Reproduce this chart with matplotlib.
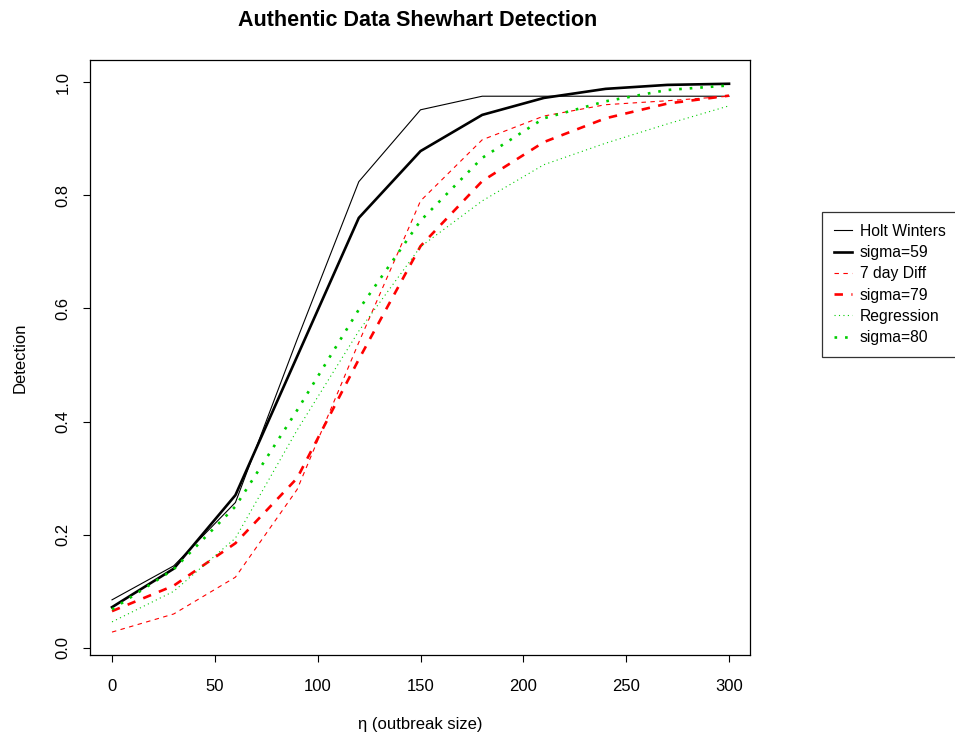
import matplotlib
matplotlib.use("Agg")
import matplotlib.pyplot as plt

plt.rcParams['font.family'] = ['Liberation Sans', 'DejaVu Sans']

# outbreak sizes (x axis)
eta = [0, 30, 60, 90, 120, 150, 180, 210, 240, 270, 300]

# detection rates
holt_winters = [0.085, 0.145, 0.257, 0.545, 0.824, 0.951, 0.975, 0.975, 0.975, 0.975, 0.975]
hw_sigma59 = [0.072, 0.140, 0.270, 0.515, 0.760, 0.878, 0.942, 0.972, 0.988, 0.995, 0.997]
day7_diff = [0.028, 0.060, 0.125, 0.280, 0.540, 0.790, 0.898, 0.940, 0.960, 0.967, 0.975]
diff_sigma79 = [0.065, 0.110, 0.185, 0.300, 0.510, 0.710, 0.825, 0.894, 0.936, 0.962, 0.976]
regression = [0.046, 0.100, 0.194, 0.385, 0.560, 0.709, 0.790, 0.854, 0.892, 0.926, 0.958]
reg_sigma80 = [0.068, 0.139, 0.250, 0.420, 0.598, 0.755, 0.866, 0.936, 0.966, 0.986, 0.994]

labels = ["Holt Winters", "sigma=59", "7 day Diff", "sigma=79", "Regression", "sigma=80"]

green = "#00CD00"

fig = plt.figure(figsize=(9.55, 7.38), dpi=100)
ax = fig.add_axes([90 / 955, 1 - 655 / 738, 660 / 955, 595 / 738])

thin = 0.8
thick = 1.9
ax.plot(eta, holt_winters, color="black", lw=thin, ls="-", label=labels[0])
ax.plot(eta, hw_sigma59, color="black", lw=thick, ls="-", label=labels[1])
ax.plot(eta, day7_diff, color="red", lw=thin, ls=(0, (4, 4)), label=labels[2])
ax.plot(eta, diff_sigma79, color="red", lw=thick, ls=(0, (3.2, 3.2)), label=labels[3])
ax.plot(eta, regression, color=green, lw=thin, ls=(0, (1, 3)), label=labels[4])
ax.plot(eta, reg_sigma80, color=green, lw=thick, ls=(0, (1, 3)), label=labels[5])

ax.set_xlim(-10.7, 310.2)
ax.set_ylim(-0.0125, 1.039)
ax.set_xticks([0, 50, 100, 150, 200, 250, 300])
ax.set_yticks([0.0, 0.2, 0.4, 0.6, 0.8, 1.0])
ax.set_yticklabels(["0.0", "0.2", "0.4", "0.6", "0.8", "1.0"], rotation=90, va="center")
ax.tick_params(direction="out", length=5, width=0.8, labelsize=12, colors="black")
ax.tick_params(axis="x", pad=12)
ax.tick_params(axis="y", pad=9)
for s in ax.spines.values():
    s.set_linewidth(0.9)

ax.set_xlabel("η (outbreak size)", fontsize=12, labelpad=17)
ax.set_ylabel("Detection", fontsize=12, labelpad=20)
fig.text(418 / 955, 1 - 20 / 738, "Authentic Data Shewhart Detection",
         ha="center", va="center", fontsize=15.5, fontweight="bold")

leg = fig.legend(loc="upper left", bbox_to_anchor=(822 / 955, 1 - 212 / 738),
                 fontsize=11.3, frameon=True, fancybox=False, edgecolor="black",
                 handlelength=1.15, handletextpad=0.5, labelspacing=0.4,
                 borderpad=0.75, borderaxespad=0)
leg.get_frame().set_linewidth(0.9)

fig.savefig("out.png", dpi=100)
